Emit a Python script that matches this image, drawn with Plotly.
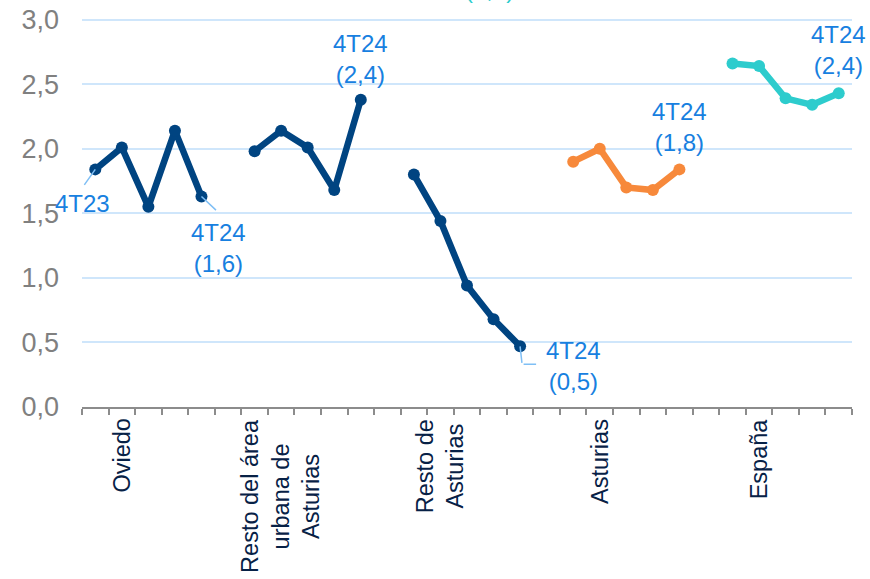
import plotly.graph_objects as go

groups = ["Oviedo", "Resto del área<br>urbana de<br>Asturias", "Resto de<br>Asturias", "Asturias", "España"]
periods = ["4T23", "1T24", "2T24", "3T24", "4T24"]
oviedo = [1.84, 2.01, 1.55, 2.14, 1.63]
resto_area = [1.98, 2.14, 2.01, 1.68, 2.38]
resto_ast = [1.80, 1.44, 0.94, 0.68, 0.47]
asturias = [1.90, 2.00, 1.70, 1.68, 1.84]
espana = [2.66, 2.64, 2.39, 2.34, 2.43]
y_ticks = [0.0, 0.5, 1.0, 1.5, 2.0, 2.5, 3.0]
y_ticktext = ["0,0", "0,5", "1,0", "1,5", "2,0", "2,5", "3,0"]

series = [oviedo, resto_area, resto_ast, asturias, espana]
colors = ["#004481", "#004481", "#004481", "#F7893B", "#2DCCCD"]
SLOT = len(periods) + 1
FONT = "Liberation Sans, Arial, sans-serif"

def xs(g):
    return [g * SLOT + i for i in range(len(periods))]

fig = go.Figure()
for g, (vals, col) in enumerate(zip(series, colors)):
    fig.add_trace(go.Scatter(
        x=xs(g), y=vals, mode="lines+markers",
        line=dict(color=col, width=6.5),
        marker=dict(color=col, size=12),
        customdata=periods, showlegend=False,
        hoverinfo="skip", cliponaxis=False))

lab_font = dict(family=FONT, size=24, color="#1780e0")
lead = "#7fbff5"
ann = []

def fmt(v):
    return f"{v:.1f}".replace(".", ",")

# Oviedo first point label (4T23) with leader
x0, y0 = xs(0)[0], oviedo[0]
ann.append(dict(x=x0, y=y0, text="", showarrow=True, arrowhead=0, arrowwidth=1.5,
                arrowcolor=lead, ax=-12, ay=17, standoff=0))
ann.append(dict(x=x0, y=y0, text=periods[0], showarrow=False, font=lab_font,
                xshift=-13, yshift=-34))
# Oviedo last point
x1, y1 = xs(0)[-1], oviedo[-1]
ann.append(dict(x=x1, y=y1, text="", showarrow=True, arrowhead=0, arrowwidth=1.5,
                arrowcolor=lead, ax=16, ay=15, standoff=0))
ann.append(dict(x=x1, y=y1, text=f"{periods[-1]}<br>({fmt(oviedo[-1])})", showarrow=False,
                font=lab_font, xshift=17, yshift=-51))
# Resto área urbana last point
ann.append(dict(x=xs(1)[-1], y=resto_area[-1], text=f"{periods[-1]}<br>({fmt(resto_area[-1])})",
                showarrow=False, font=lab_font, yshift=41))
# Resto de Asturias last point with elbow leader
x2, y2 = xs(2)[-1], resto_ast[-1]
ann.append(dict(x=x2, y=y2, text="", showarrow=True, arrowhead=0, arrowwidth=1.5,
                arrowcolor=lead, ax=2, ay=18, standoff=0))
ann.append(dict(x=x2, y=y2, text="", showarrow=True, arrowhead=0, arrowwidth=1.5,
                arrowcolor=lead, ax=-14, ay=0, standoff=0, xshift=16, yshift=-18))
ann.append(dict(x=x2, y=y2, text=f"{periods[-1]}<br>({fmt(resto_ast[-1])})", showarrow=False,
                font=lab_font, xshift=53, yshift=-20))
# Asturias last point
ann.append(dict(x=xs(3)[-1], y=asturias[-1], text=f"{periods[-1]}<br>({fmt(asturias[-1])})",
                showarrow=False, font=lab_font, yshift=42))
# España last point
ann.append(dict(x=xs(4)[-1], y=espana[-1], text=f"{periods[-1]}<br>({fmt(espana[-1])})",
                showarrow=False, font=lab_font, yshift=43))
# partially visible label above the plot (cut off by the top edge in the original)
ann.append(dict(x=14.85, y=1.030, yref="paper", yanchor="bottom", text="(2,7)",
                showarrow=False, font=dict(family=FONT, size=24, color="#2DCCCD")))
# category labels
for g, name in enumerate(groups):
    ann.append(dict(x=xs(g)[1], y=-0.025, yref="paper", yanchor="top", xanchor="center",
                    text=name, textangle=-90, showarrow=False, align="center",
                    font=dict(family=FONT, size=23.5, color="#072146")))

fig.update_layout(
    width=870, height=579,
    margin=dict(l=82, r=18, t=17, b=172, autoexpand=False),
    paper_bgcolor="white", plot_bgcolor="white",
    annotations=ann,
    xaxis=dict(range=[-0.5, SLOT * len(groups) - 1.5], showgrid=False, zeroline=False,
               automargin=False,
               showline=True, linecolor="#8c8c8c", linewidth=2,
               tickvals=[], ticks="",
               minor=dict(ticks="outside", tick0=-0.5, dtick=1, ticklen=6,
                          tickcolor="#8c8c8c", tickwidth=2, showgrid=False)),
    yaxis=dict(range=[0, 3.02], tickvals=y_ticks, ticktext=y_ticktext,
               automargin=False, ticklabeloverflow="allow",
               showgrid=True, gridcolor="#cfe6fb", gridwidth=1.5, zeroline=False,
               showline=False, ticks="", ticklabelstandoff=22,
               tickfont=dict(family=FONT, size=27, color="#808080")),
)

fig.write_html("out.html", config={"displayModeBar": False},
               post_script="document.body.style.margin='0';")
